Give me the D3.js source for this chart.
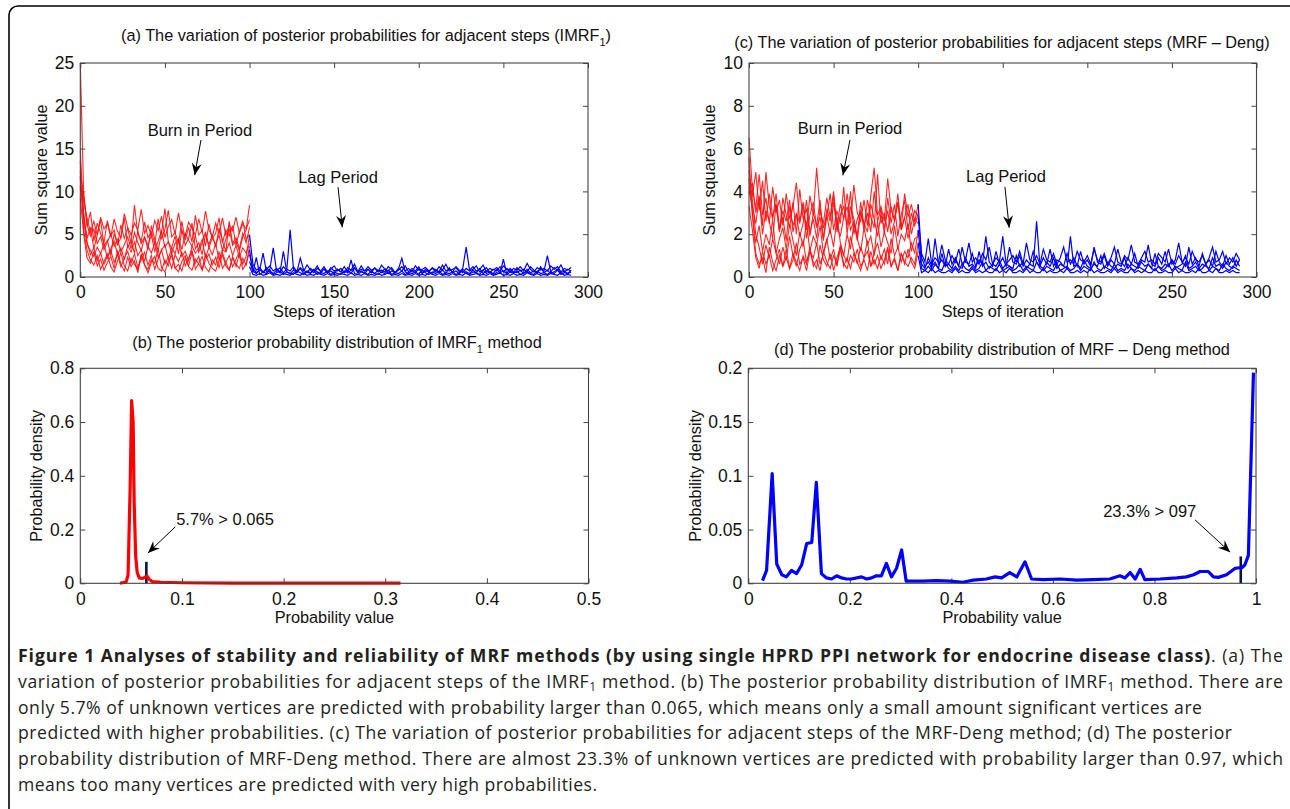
<!DOCTYPE html>
<html>
<head>
<meta charset="utf-8">
<script src="https://cdn.jsdelivr.net/npm/d3@7"></script>
<style>
  body { margin: 0; background: #fff; }
  svg text { font-family: "Liberation Sans", Arial, Helvetica, sans-serif; fill: #111; }
  .caption text { font-family: "Open Sans", sans-serif; fill: #231f20; }
</style>
</head>
<body>
<svg id="fig" width="1290" height="809"></svg>
<script>
// ---------- data ----------
// (a) IMRF1: burn-in runs, steps 0..100 every 2
var burnA = [
  [25, 9.6, 6.1, 4.8, 5.6, 3.9, 4.7, 3.2, 4.1, 5.0, 3.6, 4.4, 2.9, 3.8, 4.7, 3.3, 5.2, 4.0, 3.1, 4.6,
   3.7, 4.9, 3.0, 4.2, 5.4, 3.5, 4.1, 2.8, 3.9, 4.5, 3.2, 5.1, 4.3, 3.6, 4.8, 2.9, 4.0, 5.3, 3.4, 4.6,
   3.8, 4.9, 3.1, 4.4, 5.6, 3.7, 4.2, 3.0, 4.7, 5.5, 8.4],
  [13.5, 7.2, 4.1, 2.6, 3.4, 1.9, 2.8, 1.5, 2.4, 3.1, 1.7, 2.6, 1.2, 2.2, 3.0, 1.6, 2.7, 1.1, 2.0, 2.9,
   1.4, 2.5, 0.9, 2.1, 3.2, 1.5, 2.3, 1.0, 2.6, 1.8, 2.9, 1.3, 2.2, 3.1, 1.6, 2.4, 0.8, 2.0, 2.7, 1.4,
   2.3, 1.1, 2.8, 1.7, 2.5, 1.2, 2.1, 2.9, 1.5, 2.4, 4.9],
  [10.2, 9.8, 5.9, 7.6, 4.2, 6.3, 5.1, 4.0, 6.6, 4.8, 5.5, 3.7, 6.1, 4.5, 5.7, 3.9, 8.4, 5.0, 4.2, 6.4,
   4.6, 5.3, 3.8, 6.8, 4.4, 5.6, 7.8, 4.7, 5.2, 3.9, 6.5, 4.3, 5.8, 4.1, 7.2, 4.9, 5.4, 3.6, 6.2, 4.5,
   5.1, 6.9, 4.0, 5.5, 4.8, 6.0, 3.7, 5.3, 6.6, 4.4, 5.0],
  [11.8, 5.4, 3.1, 2.0, 1.4, 2.5, 0.9, 1.8, 2.7, 1.2, 0.6, 1.9, 2.8, 1.3, 0.7, 2.2, 1.5, 0.9, 2.6, 1.4,
   0.5, 1.7, 2.4, 1.0, 0.7, 2.0, 1.3, 2.9, 1.1, 0.6, 1.8, 2.5, 1.2, 0.8, 2.1, 1.5, 0.9, 2.7, 1.6, 1.0,
   0.7, 1.9, 2.6, 1.3, 0.8, 2.3, 1.5, 1.0, 2.2, 1.4, 3.6],
  [12.4, 8.8, 6.9, 5.2, 6.5, 4.9, 7.0, 5.6, 6.2, 4.7, 6.8, 5.3, 4.6, 7.4, 5.8, 4.9, 6.3, 5.5, 7.9, 5.1,
   6.0, 4.8, 6.6, 5.4, 7.1, 4.6, 5.9, 6.7, 5.0, 7.5, 5.3, 4.8, 6.4, 5.7, 4.9, 6.8, 5.2, 7.7, 5.5, 4.7,
   6.3, 5.0, 6.9, 4.8, 6.1, 5.4, 7.0, 5.1, 6.2, 5.6, 6.7],
  [14.8, 6.5, 3.8, 3.1, 2.4, 3.5, 2.7, 3.9, 2.2, 3.3, 4.2, 2.6, 3.4, 2.0, 3.7, 2.9, 4.1, 2.5, 3.2, 1.8,
   3.6, 2.8, 4.0, 2.3, 3.1, 3.8, 2.1, 3.4, 2.7, 4.3, 2.4, 3.0, 1.9, 3.6, 2.8, 3.3, 4.4, 2.2, 3.5, 2.6,
   3.9, 2.0, 3.2, 2.9, 4.0, 2.5, 3.7, 2.3, 3.4, 2.8, 3.9],
  [10.6, 7.4, 4.5, 5.8, 3.3, 4.9, 6.7, 3.6, 4.3, 2.5, 5.1, 3.8, 4.6, 6.9, 3.5, 4.2, 2.8, 5.4, 3.9, 4.7,
   3.2, 6.0, 4.4, 3.1, 5.2, 8.0, 4.1, 3.4, 4.8, 2.7, 5.5, 3.7, 4.5, 6.3, 3.3, 4.0, 2.6, 5.0, 3.8, 4.9,
   3.5, 5.7, 4.2, 3.0, 6.5, 3.9, 4.6, 3.3, 5.1, 4.0, 5.8],
  [9.2, 5.0, 2.2, 1.6, 3.0, 1.3, 2.1, 0.8, 1.7, 2.4, 1.0, 3.1, 1.5, 0.7, 2.3, 1.2, 1.9, 0.5, 2.6, 1.4,
   0.9, 2.0, 1.6, 3.3, 1.1, 0.6, 1.8, 2.5, 1.0, 1.5, 0.7, 2.2, 1.3, 2.9, 0.9, 1.6, 2.4, 1.1, 0.6, 2.0,
   1.4, 3.0, 1.0, 1.7, 0.8, 2.3, 1.2, 2.7, 0.9, 1.5, 3.0]
];
// (a) IMRF1: lag runs, steps 100..290 every 2
var lagA = [
  [4.9, 1.5, 0.8, 1.1, 0.6, 0.9, 1.3, 0.7, 1.0, 0.5, 1.2, 0.8, 5.5, 0.9, 0.6, 1.1, 0.7, 1.4, 0.8, 0.5, 1.0, 0.7, 1.2, 0.6,
   0.9, 1.3, 0.7, 1.0, 0.5, 1.1, 0.8, 1.5, 0.6, 0.9, 0.7, 1.2, 0.8, 1.0, 0.6, 1.4, 0.9, 0.7, 1.1, 0.5, 0.8, 1.2, 0.7, 1.0,
   0.6, 1.3, 0.8, 0.9, 1.1, 0.7, 1.0, 0.6, 1.2, 0.8, 1.5, 0.7, 0.9, 1.1, 0.6, 1.0, 3.5, 0.8, 1.2, 0.7, 0.9, 1.4, 0.6, 1.0,
   0.8, 1.1, 0.7, 1.3, 0.9, 0.6, 1.0, 0.8, 1.2, 0.7, 1.6, 0.9, 0.6, 1.1, 0.8, 1.0, 0.7, 1.3, 0.9, 1.2, 0.6, 1.0, 0.8, 1.1],
  [2.6, 1.0, 0.5, 0.8, 2.8, 0.6, 0.9, 3.4, 0.7, 1.1, 0.5, 0.9, 0.7, 1.2, 0.6, 2.2, 0.8, 0.5, 1.0, 0.7, 1.3, 0.6, 0.9, 0.5,
   1.1, 0.7, 0.9, 0.6, 1.2, 0.5, 0.8, 1.0, 0.6, 1.3, 0.7, 0.9, 0.5, 1.1, 0.7, 0.8, 0.6, 1.2, 0.9, 0.5, 1.0, 0.7, 1.3, 0.6,
   1.0, 0.7, 1.2, 0.5, 0.9, 0.6, 1.1, 0.8, 0.6, 1.4, 0.7, 0.9, 0.6, 1.2, 0.8, 0.5, 1.0, 0.7, 0.9, 1.3, 0.6, 0.8, 1.1, 0.5,
   0.9, 0.7, 1.2, 0.6, 1.0, 0.8, 0.5, 1.1, 0.7, 0.9, 0.6, 1.2, 0.8, 0.5, 1.0, 0.7, 2.5, 0.6, 1.1, 0.8, 1.4, 0.6, 0.9, 0.7],
  [1.8, 0.7, 0.4, 0.9, 0.5, 1.1, 0.6, 0.4, 0.8, 0.5, 3.0, 0.6, 0.4, 0.8, 0.5, 1.0, 0.4, 0.7, 0.5, 0.9, 0.6, 0.4, 1.0, 0.5,
   0.7, 0.4, 0.9, 0.6, 0.5, 0.8, 0.4, 1.1, 0.5, 0.7, 0.4, 0.9, 0.6, 0.4, 0.8, 0.5, 1.0, 0.4, 0.7, 0.5, 0.9, 2.2, 0.6, 0.4,
   0.8, 0.5, 1.0, 0.4, 0.7, 0.6, 0.4, 0.9, 0.5, 0.8, 0.4, 1.1, 0.5, 0.7, 0.4, 0.9, 0.6, 0.4, 0.8, 0.5, 1.0, 0.4, 0.7, 0.6,
   0.4, 0.9, 0.5, 0.7, 0.4, 1.0, 0.6, 0.5, 0.8, 0.4, 0.9, 0.5, 0.7, 0.4, 1.2, 0.5, 0.8, 0.4, 0.6, 0.9, 0.5, 0.7, 0.4, 0.8],
  [3.2, 0.5, 2.3, 0.3, 0.6, 0.4, 0.8, 0.3, 0.5, 0.7, 0.3, 0.6, 0.4, 0.3, 0.7, 0.5, 0.3, 0.6, 0.4, 0.8, 0.3, 0.5, 0.4, 0.7,
   0.3, 0.6, 0.4, 0.3, 0.7, 0.5, 2.0, 0.4, 0.3, 0.6, 0.5, 0.3, 0.7, 0.4, 0.3, 0.6, 0.4, 0.8, 0.3, 0.5, 0.4, 0.7, 0.3, 0.5,
   0.4, 0.6, 0.3, 0.8, 0.5, 0.3, 0.6, 0.4, 0.7, 0.3, 0.5, 0.4, 0.6, 0.3, 0.5, 0.7, 0.4, 0.3, 0.6, 0.5, 0.3, 0.8, 0.4, 0.6,
   0.3, 0.5, 0.4, 2.1, 0.3, 0.6, 0.4, 0.7, 0.3, 0.5, 0.6, 0.4, 0.3, 0.7, 0.4, 0.5, 0.3, 0.6, 0.4, 0.8, 0.3, 0.5, 0.4, 0.6],
  [1.2, 0.3, 0.2, 0.4, 0.2, 0.3, 0.5, 0.2, 0.3, 0.2, 0.4, 0.3, 0.2, 0.5, 0.3, 0.2, 0.4, 0.2, 0.3, 0.2, 0.5, 0.3, 0.2, 0.4,
   0.2, 0.3, 0.2, 0.4, 0.3, 0.2, 0.5, 0.2, 0.3, 0.2, 0.4, 0.2, 0.3, 0.2, 0.4, 0.2, 0.3, 0.5, 0.2, 0.3, 0.2, 0.4, 0.2, 0.3,
   0.2, 0.4, 0.2, 0.3, 0.2, 0.5, 0.3, 0.2, 0.4, 0.2, 0.3, 0.2, 0.4, 0.2, 0.3, 0.2, 0.5, 0.2, 0.3, 0.4, 0.2, 0.3, 0.2, 0.4,
   0.2, 0.3, 0.5, 0.2, 0.3, 0.2, 0.4, 0.2, 0.3, 0.2, 0.5, 0.3, 0.2, 0.4, 0.2, 0.3, 0.2, 0.4, 0.3, 0.2, 0.5, 0.2, 0.3, 0.2]
];
// (c) MRF-Deng: burn-in runs
var burnC = [
  [6.5, 4.1, 3.2, 4.8, 2.9, 3.7, 2.5, 4.2, 3.0, 3.6, 2.4, 3.9, 2.7, 3.3, 4.4, 2.6, 3.5, 2.2, 3.8, 2.9,
   5.1, 3.1, 2.5, 3.7, 2.8, 4.0, 2.3, 3.4, 2.7, 3.9, 2.5, 4.3, 3.0, 2.6, 3.6, 2.4, 3.8, 5.1, 2.9, 3.3,
   2.6, 4.6, 3.1, 2.7, 3.5, 2.3, 3.9, 2.8, 3.4, 2.6, 3.4],
  [5.0, 3.6, 2.0, 1.4, 0.6, 1.5, 0.9, 1.8, 1.1, 0.6, 1.4, 0.8, 1.9, 1.0, 0.5, 1.3, 1.7, 0.7, 1.2, 0.9,
   1.6, 0.6, 1.1, 1.8, 0.8, 1.3, 0.5, 1.5, 1.0, 0.7, 1.9, 1.2, 0.6, 1.4, 0.9, 1.7, 0.5, 1.1, 1.6, 0.8,
   1.3, 0.6, 1.8, 1.0, 1.4, 0.7, 1.2, 0.9, 1.6, 1.1, 2.2],
  [4.2, 3.8, 4.9, 3.1, 4.5, 2.6, 3.9, 2.8, 3.4, 2.1, 3.7, 2.9, 2.3, 3.5, 2.0, 4.1, 2.7, 3.2, 1.9, 3.0,
   2.4, 3.6, 1.8, 2.8, 3.9, 2.2, 3.1, 2.5, 4.2, 2.0, 3.3, 2.7, 1.9, 3.5, 2.4, 3.0, 2.1, 4.0, 2.6, 3.2,
   2.0, 3.7, 2.5, 3.4, 1.9, 2.9, 3.6, 2.2, 3.0, 2.4, 3.0],
  [3.3, 2.2, 0.9, 0.4, 1.2, 0.6, 1.0, 0.3, 0.8, 1.3, 0.5, 0.9, 0.4, 1.1, 0.7, 0.3, 1.0, 0.6, 1.4, 0.5,
   0.8, 0.3, 1.2, 0.7, 0.4, 1.0, 0.6, 1.3, 0.5, 0.9, 0.4, 1.1, 0.7, 0.3, 0.9, 1.2, 0.5, 0.8, 0.4, 1.0,
   0.6, 1.3, 0.5, 0.8, 0.3, 1.1, 0.7, 0.5, 0.9, 0.6, 1.6],
  [3.9, 4.4, 3.0, 3.8, 2.4, 4.9, 3.3, 2.7, 3.9, 2.2, 3.1, 2.6, 3.6, 2.1, 3.0, 2.5, 3.4, 1.8, 2.9, 3.5,
   2.3, 2.8, 1.7, 3.2, 2.6, 3.8, 2.1, 2.9, 3.3, 2.4, 4.0, 2.0, 2.7, 3.1, 2.2, 3.6, 2.8, 2.3, 4.8, 2.5,
   3.0, 2.1, 3.3, 2.6, 3.9, 2.2, 2.8, 3.4, 2.0, 2.7, 2.5],
  [4.6, 3.0, 1.6, 2.4, 1.2, 2.0, 1.5, 2.7, 1.1, 1.8, 2.3, 1.3, 2.5, 1.7, 1.0, 2.1, 1.4, 2.6, 1.2, 1.9,
   1.5, 2.4, 1.1, 1.7, 2.2, 1.4, 2.8, 1.6, 1.0, 2.0, 1.3, 2.5, 1.8, 1.2, 2.3, 1.5, 1.9, 1.0, 2.6, 1.4,
   2.1, 1.6, 1.1, 2.4, 1.3, 2.0, 1.7, 2.5, 1.2, 1.8, 1.9],
  [5.6, 2.9, 1.1, 0.6, 0.9, 0.2, 1.4, 0.7, 0.3, 1.0, 0.5, 1.3, 0.4, 0.8, 1.6, 0.6, 0.9, 0.3, 1.2, 0.7,
   0.4, 1.5, 0.8, 0.5, 1.1, 0.3, 0.9, 1.4, 0.6, 0.4, 1.0, 0.7, 1.3, 0.5, 0.8, 0.3, 1.2, 0.6, 1.0, 0.4,
   0.8, 1.4, 0.5, 0.9, 0.3, 1.1, 0.6, 1.3, 0.7, 0.4, 1.2],
  [4.0, 3.3, 2.5, 3.7, 2.0, 3.1, 2.6, 1.8, 3.4, 2.2, 2.8, 1.7, 3.3, 2.4, 2.9, 1.9, 2.5, 3.6, 2.1, 2.7,
   1.8, 3.2, 2.3, 2.9, 2.0, 3.5, 2.4, 1.9, 2.8, 3.3, 2.2, 2.6, 1.7, 3.0, 2.5, 2.1, 3.4, 2.7, 1.9, 2.9,
   2.3, 3.1, 2.0, 2.6, 3.5, 2.2, 2.8, 1.8, 2.5, 3.1, 2.8]
];
// (c) MRF-Deng: lag runs
var lagC = [
  [3.4, 0.9, 0.5, 0.7, 0.4, 1.8, 0.6, 0.8, 0.5, 1.3, 0.6, 0.9, 0.5, 1.4, 0.7, 0.6, 1.1, 0.5, 0.8, 0.6, 1.9, 0.7, 0.5, 1.2,
   0.6, 0.9, 0.5, 1.4, 0.7, 0.6, 1.0, 0.5, 0.8, 0.6, 1.2, 0.7, 0.5, 0.9, 0.6, 1.3, 0.5, 0.8, 0.7, 0.5, 1.1, 0.6, 0.9, 0.5,
   1.2, 0.6, 0.8, 0.5, 1.4, 0.7, 0.6, 1.0, 0.5, 0.8, 0.6, 1.3, 0.7, 0.5, 0.9, 0.6, 1.1, 0.5, 0.8, 0.7, 1.5, 0.6, 0.5, 0.9,
   0.6, 1.2, 0.5, 0.8, 0.6, 1.0, 0.7, 0.5, 1.4, 0.6, 0.9, 0.5, 1.1, 0.6, 0.8, 0.5, 1.2, 0.7, 0.5, 1.0, 0.6, 0.9, 0.5, 0.8],
  [2.2, 0.6, 0.4, 0.9, 0.5, 0.7, 0.4, 1.1, 0.5, 0.6, 0.4, 0.8, 0.5, 0.4, 0.9, 0.5, 0.6, 0.4, 1.2, 0.5, 0.7, 0.4, 0.6, 0.5,
   0.8, 0.4, 0.6, 0.5, 0.4, 1.0, 0.5, 0.7, 0.4, 0.6, 0.5, 2.6, 0.5, 0.4, 0.7, 0.5, 0.9, 0.4, 0.6, 0.5, 0.4, 1.9, 0.5, 0.6,
   0.4, 0.8, 0.5, 0.4, 0.6, 0.5, 1.0, 0.4, 0.7, 0.5, 0.4, 0.6, 0.5, 0.9, 0.4, 0.6, 0.5, 0.4, 0.7, 0.5, 0.6, 0.4, 1.1, 0.5,
   0.4, 0.6, 0.5, 0.8, 0.4, 0.5, 0.6, 1.0, 0.4, 0.5, 0.7, 0.4, 0.6, 0.5, 0.4, 0.9, 0.5, 0.6, 0.4, 0.7, 0.5, 0.4, 0.8, 0.5],
  [1.6, 0.4, 0.3, 0.5, 0.3, 0.6, 0.4, 0.3, 0.7, 0.4, 0.3, 0.5, 0.3, 0.6, 0.4, 0.3, 0.5, 0.3, 0.4, 0.7, 0.3, 0.5, 0.4, 0.3,
   0.6, 0.3, 0.4, 0.5, 0.3, 0.4, 0.6, 0.3, 0.5, 0.4, 0.3, 0.7, 0.4, 0.3, 0.5, 0.4, 0.3, 0.6, 0.3, 0.4, 0.5, 0.3, 0.4, 0.6,
   0.3, 0.5, 0.4, 0.3, 0.7, 0.4, 0.3, 0.5, 0.4, 0.3, 0.6, 0.3, 0.4, 0.3, 0.6, 0.4, 0.3, 0.5, 0.4, 0.3, 0.6, 0.4, 0.3, 0.5,
   0.3, 0.4, 0.6, 0.3, 0.5, 0.4, 0.3, 0.7, 0.3, 0.4, 0.5, 0.3, 0.4, 0.6, 0.3, 0.5, 0.4, 0.3, 0.6, 0.4, 0.3, 0.5, 0.4, 0.3],
  [1.0, 0.2, 0.3, 0.2, 0.4, 0.2, 0.3, 0.2, 0.2, 0.3, 0.2, 0.4, 0.2, 0.3, 0.2, 0.2, 0.4, 0.2, 0.3, 0.2, 0.3, 0.2, 0.2, 0.4,
   0.2, 0.3, 0.2, 0.4, 0.2, 0.2, 0.3, 0.2, 0.4, 0.2, 0.3, 0.2, 0.2, 0.4, 0.2, 0.3, 0.2, 0.2, 0.3, 0.2, 0.4, 0.2, 0.2, 0.3,
   0.2, 0.3, 0.2, 0.4, 0.2, 0.3, 0.2, 0.2, 0.3, 0.2, 0.4, 0.2, 0.3, 0.2, 0.2, 0.4, 0.2, 0.3, 0.2, 0.3, 0.2, 0.2, 0.4, 0.2,
   0.2, 0.3, 0.2, 0.2, 0.4, 0.2, 0.3, 0.2, 0.2, 0.3, 0.2, 0.4, 0.2, 0.2, 0.3, 0.2, 0.4, 0.2, 0.2, 0.3, 0.2, 0.3, 0.2, 0.2],
  [2.8, 1.1, 0.7, 1.8, 0.6, 0.9, 0.7, 1.5, 0.8, 0.6, 1.0, 0.7, 1.3, 0.6, 0.8, 1.6, 0.7, 0.9, 0.6, 1.1, 0.8, 1.4, 0.6, 0.9,
   0.7, 1.9, 0.6, 0.8, 1.0, 0.7, 1.2, 0.6, 1.6, 0.8, 0.7, 1.0, 0.6, 1.3, 0.8, 0.7, 1.1, 0.6, 0.9, 1.4, 0.7, 0.8, 0.6, 1.2,
   0.8, 0.7, 1.0, 0.6, 1.3, 0.8, 0.7, 1.1, 0.6, 0.9, 1.4, 0.7, 0.6, 1.0, 0.8, 1.5, 0.7, 0.6, 0.9, 1.2, 0.7, 0.8, 0.6, 1.1,
   0.9, 0.7, 1.3, 0.6, 0.8, 1.6, 0.7, 0.9, 0.6, 1.2, 0.8, 0.7, 1.0, 0.6, 0.9, 1.4, 0.7, 0.8, 1.2, 0.6, 0.9, 0.7, 1.1, 0.8]
];

// (b) IMRF1 posterior probability density
var probB = [0.039, 0.045, 0.047, 0.049, 0.0505, 0.052, 0.053, 0.0545, 0.056, 0.058, 0.061, 0.0635, 0.0655, 0.068, 0.071, 0.08, 0.1, 0.15, 0.2, 0.25, 0.315];
var densB = [0, 0.005, 0.03, 0.35, 0.68, 0.6, 0.3, 0.1, 0.04, 0.02, 0.018, 0.022, 0.027, 0.014, 0.006, 0.004, 0.002, 0.001, 0.001, 0.001, 0.001];

// (d) MRF-Deng posterior probability density
var probD = [0.028, 0.036, 0.047, 0.056, 0.066, 0.075, 0.085, 0.095, 0.105, 0.115, 0.125, 0.134, 0.144, 0.154, 0.164, 0.174,
  0.184, 0.193, 0.203, 0.223, 0.233, 0.243, 0.252, 0.262, 0.272, 0.282, 0.292, 0.302, 0.311, 0.325, 0.344, 0.37, 0.397,
  0.423, 0.443, 0.469, 0.486, 0.499, 0.515, 0.529, 0.545, 0.558, 0.581, 0.614, 0.647, 0.68, 0.712, 0.732, 0.742, 0.752,
  0.762, 0.772, 0.781, 0.811, 0.844, 0.863, 0.877, 0.89, 0.906, 0.916, 0.926, 0.942, 0.959, 0.972, 0.978, 0.985, 0.995];
var densD = [0.0025, 0.012, 0.102, 0.018, 0.008, 0.006, 0.012, 0.009, 0.017, 0.037, 0.038, 0.094, 0.009, 0.005, 0.004, 0.007,
  0.005, 0.004, 0.004, 0.006, 0.004, 0.005, 0.007, 0.007, 0.0185, 0.006, 0.014, 0.031, 0.002, 0.002, 0.002, 0.0025, 0.002,
  0.001, 0.003, 0.004, 0.006, 0.005, 0.010, 0.006, 0.020, 0.004, 0.0035, 0.004, 0.003, 0.0035, 0.004, 0.007, 0.005, 0.010,
  0.004, 0.013, 0.0035, 0.004, 0.005, 0.006, 0.008, 0.011, 0.011, 0.006, 0.0055, 0.008, 0.014, 0.0145, 0.017, 0.026, 0.196];

// thresholds marked by the short black bars
var cutB = { x: 0.065, h: 0.08 };
var cutD = { x: 0.97, h: 0.025 };

// caption lines (bold / sub flags per piece)
var captionLines = [
  [{ t: "Figure 1 Analyses of stability and reliability of MRF methods (by using single HPRD PPI network for endocrine disease class)", b: 1 }, { t: ". (a) The" }],
  [{ t: "variation of posterior probabilities for adjacent steps of the IMRF" }, { t: "1", s: 1 }, { t: " method. (b) The posterior probability distribution of IMRF" }, { t: "1", s: 1 }, { t: " method. There are" }],
  [{ t: "only 5.7% of unknown vertices are predicted with probability larger than 0.065, which means only a small amount significant vertices are" }],
  [{ t: "predicted with higher probabilities. (c) The variation of posterior probabilities for adjacent steps of the MRF-Deng method; (d) The posterior" }],
  [{ t: "probability distribution of MRF-Deng method. There are almost 23.3% of unknown vertices are predicted with probability larger than 0.97, which" }],
  [{ t: "means too many vertices are predicted with very high probabilities." }]
];
var captionWidths = [1265, 1265, 1184, 1214, 1265, 579];

// ---------- drawing ----------
var svg = d3.select("#fig");
var fmt = d3.format("~g");

// arrowhead like matlab annotation arrows
svg.append("defs").append("marker")
  .attr("id", "head")
  .attr("viewBox", "-12 -6 14 12")
  .attr("markerWidth", 14).attr("markerHeight", 12)
  .attr("markerUnits", "userSpaceOnUse")
  .attr("orient", "auto")
  .append("path")
  .attr("d", "M0,0 L-12,-5 L-8,0 L-12,5 Z")
  .attr("fill", "#000");

// outer rounded frame
svg.append("rect")
  .attr("x", 9).attr("y", 6)
  .attr("width", 1320).attr("height", 840)
  .attr("rx", 9)
  .attr("fill", "none").attr("stroke", "#000").attr("stroke-width", 1.6);

const makePanel = (p) => {
  var x = d3.scaleLinear().domain(p.xDomain).range([p.left, p.right]);
  var y = d3.scaleLinear().domain(p.yDomain).range([p.bottom, p.top]);
  var g = svg.append("g");

  // bottom axis with labels, ticks pointing in
  var bx = g.append("g").attr("transform", "translate(0," + p.bottom + ")")
    .call(d3.axisBottom(x).tickValues(p.xTicks).tickSizeInner(-5).tickSizeOuter(0).tickPadding(9).tickFormat(fmt));
  var ly = g.append("g").attr("transform", "translate(" + p.left + ",0)")
    .call(d3.axisLeft(y).tickValues(p.yTicks).tickSizeInner(-5).tickSizeOuter(0).tickPadding(6).tickFormat(fmt));
  var tx = g.append("g").attr("transform", "translate(0," + p.top + ")")
    .call(d3.axisTop(x).tickValues(p.xTicks).tickSizeInner(-5).tickSizeOuter(0).tickFormat(""));
  var ry = g.append("g").attr("transform", "translate(" + p.right + ",0)")
    .call(d3.axisRight(y).tickValues(p.yTicks).tickSizeInner(-5).tickSizeOuter(0).tickFormat(""));
  [bx, ly, tx, ry].forEach((a) => {
    a.select(".domain").remove();
    a.selectAll("line").attr("stroke", "#444");
    a.selectAll("text").attr("font-family", "Liberation Sans, Arial, sans-serif").attr("font-size", 17.5).attr("fill", "#111");
  });

  // data
  p.draw(g, x, y);

  // box
  g.append("rect")
    .attr("x", p.left).attr("y", p.top)
    .attr("width", p.right - p.left).attr("height", p.bottom - p.top)
    .attr("fill", "none").attr("stroke", "#444").attr("stroke-width", 1.1);

  // title
  var t = g.append("text").attr("x", p.titleX).attr("y", p.titleY)
    .attr("text-anchor", "middle").attr("font-size", 16.3);
  p.title.forEach((s) => {
    var ts = t.append("tspan").text(s.t);
    if (s.s) ts.attr("font-size", 11).attr("dy", 5);
    else if (s.after) ts.attr("dy", -5);
  });

  // axis labels
  g.append("text").attr("x", (p.left + p.right) / 2).attr("y", p.xLabelY)
    .attr("text-anchor", "middle").attr("font-size", 16.3).text(p.xLabel);
  g.append("text")
    .attr("transform", "translate(" + p.yLabelX + "," + (p.top + p.bottom) / 2 + ") rotate(-90)")
    .attr("text-anchor", "middle").attr("font-size", 16.3).text(p.yLabel);

  // annotations
  p.notes.forEach((n) => {
    g.append("text").attr("x", x(n.tx)).attr("y", y(n.ty))
      .attr("text-anchor", n.anchor || "middle").attr("font-size", 16.5).text(n.text);
    g.append("line")
      .attr("x1", x(n.a[0])).attr("y1", y(n.a[1]))
      .attr("x2", x(n.a[2])).attr("y2", y(n.a[3]))
      .attr("stroke", "#000").attr("stroke-width", 1)
      .attr("marker-end", "url(#head)");
  });
};

// runs of the sampler: red burn-in, then blue lag period
const drawRuns = (burn, lag) => (g, x, y) => {
  var line = d3.line().x((d) => x(d[0])).y((d) => y(d[1]));
  burn.forEach((run) => {
    g.append("path")
      .datum(run.map((v, i) => [i * 2, v]))
      .attr("d", line).attr("fill", "none")
      .attr("stroke", "#ff1010").attr("stroke-width", 1.1).attr("stroke-opacity", 0.9);
  });
  lag.forEach((run) => {
    g.append("path")
      .datum(run.map((v, i) => [100 + i * 2, v]))
      .attr("d", line).attr("fill", "none")
      .attr("stroke", "#0000ff").attr("stroke-width", 1.2);
  });
};

const drawDensity = (probs, dens, color, cut) => (g, x, y) => {
  var line = d3.line().x((d) => x(d[0])).y((d) => y(d[1]));
  g.append("line")
    .attr("x1", x(cut.x)).attr("x2", x(cut.x))
    .attr("y1", y(0)).attr("y2", y(cut.h))
    .attr("stroke", "#0b1440").attr("stroke-width", 2.6);
  g.append("path")
    .datum(probs.map((v, i) => [v, dens[i]]))
    .attr("d", line).attr("fill", "none")
    .attr("stroke", color).attr("stroke-width", 3.2)
    .attr("stroke-linejoin", "round");
};

makePanel({
  left: 80.3, right: 588, top: 63, bottom: 277,
  xDomain: [0, 300], yDomain: [0, 25],
  xTicks: [0, 50, 100, 150, 200, 250, 300], yTicks: [0, 5, 10, 15, 20, 25],
  title: [{ t: "(a) The variation of posterior probabilities for adjacent steps (IMRF" }, { t: "1", s: 1 }, { t: ")", after: 1 }],
  titleX: 366, titleY: 41,
  xLabel: "Steps of iteration", xLabelY: 317,
  yLabel: "Sum square value", yLabelX: 47,
  notes: [
    { text: "Burn in Period", tx: 70.7, ty: 16.5, a: [71.3, 16.0, 67.6, 11.9] },
    { text: "Lag Period", tx: 152.3, ty: 11.0, a: [152.3, 10.5, 154.8, 5.8] }
  ],
  draw: drawRuns(burnA, lagA)
});

makePanel({
  left: 749, right: 1256.5, top: 63, bottom: 277,
  xDomain: [0, 300], yDomain: [0, 10],
  xTicks: [0, 50, 100, 150, 200, 250, 300], yTicks: [0, 2, 4, 6, 8, 10],
  title: [{ t: "(c) The variation of posterior probabilities for adjacent steps (MRF \u2013 Deng)" }],
  titleX: 1002, titleY: 48,
  xLabel: "Steps of iteration", xLabelY: 317,
  yLabel: "Sum square value", yLabelX: 715,
  notes: [
    { text: "Burn in Period", tx: 59.7, ty: 6.7, a: [59.7, 6.4, 55.5, 4.75] },
    { text: "Lag Period", tx: 151.9, ty: 4.44, a: [151.3, 4.21, 153.8, 2.3] }
  ],
  draw: drawRuns(burnC, lagC)
});

makePanel({
  left: 80.3, right: 588.5, top: 368.3, bottom: 583.3,
  xDomain: [0, 0.5], yDomain: [0, 0.8],
  xTicks: [0, 0.1, 0.2, 0.3, 0.4, 0.5], yTicks: [0, 0.2, 0.4, 0.6, 0.8],
  title: [{ t: "(b) The  posterior probability distribution of IMRF" }, { t: "1", s: 1 }, { t: " method", after: 1 }],
  titleX: 337, titleY: 348,
  xLabel: "Probability value", xLabelY: 623,
  yLabel: "Probability density", yLabelX: 42,
  notes: [
    { text: "5.7% > 0.065", tx: 0.0943, ty: 0.217, anchor: "start", a: [0.0934, 0.21, 0.0666, 0.113] }
  ],
  draw: drawDensity(probB, densB, "#ff0000", cutB)
});

makePanel({
  left: 748.3, right: 1256, top: 368.3, bottom: 583.3,
  xDomain: [0, 1], yDomain: [0, 0.2],
  xTicks: [0, 0.2, 0.4, 0.6, 0.8, 1], yTicks: [0, 0.05, 0.1, 0.15, 0.2],
  title: [{ t: "(d) The  posterior probability distribution of MRF \u2013 Deng method" }],
  titleX: 1002, titleY: 355,
  xLabel: "Probability value", xLabelY: 623,
  yLabel: "Probability density", yLabelX: 701,
  notes: [
    { text: "23.3% > 097", tx: 0.699, ty: 0.0617, anchor: "start", a: [0.880, 0.059, 0.949, 0.029] }
  ],
  draw: drawDensity(probD, densD, "#0000ff", cutD)
});

// ---------- caption ----------
var cap = svg.append("g").attr("class", "caption");
captionLines.forEach((pieces, li) => {
  var t = cap.append("text")
    .attr("x", 18).attr("y", 662 + li * 25.8)
    .attr("font-size", 17.6)
    .attr("textLength", captionWidths[li])
    .attr("lengthAdjust", "spacing");
  pieces.forEach((pc, k) => {
    var ts = t.append("tspan").text(pc.t);
    if (pc.b) ts.attr("font-weight", "bold");
    if (pc.s) ts.attr("font-size", 12).attr("dy", 3);
    else if (k > 0 && pieces[k - 1].s) ts.attr("dy", -3);
  });
});
</script>
</body>
</html>
